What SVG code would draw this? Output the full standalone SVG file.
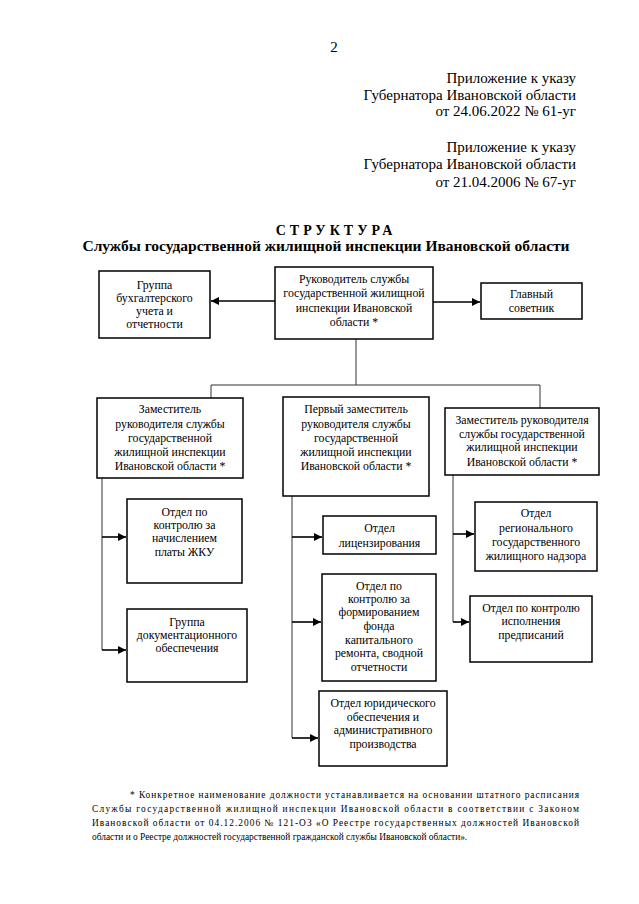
<svg xmlns="http://www.w3.org/2000/svg" width="639" height="904" viewBox="0 0 639 904" font-family="'Liberation Serif', 'Times New Roman', 'DejaVu Serif', serif">
<style>
text{font-family:'Liberation Serif','Times New Roman','DejaVu Serif',serif;fill:#000}
.hd{font-size:15px;text-anchor:end}
.bx{fill:#fff;stroke:#000;stroke-width:1.5}
.t{font-size:11.8px;text-anchor:middle}
.thin{stroke:#333;stroke-width:1;fill:none}
.arr{stroke:#000;stroke-width:1.6;fill:none;marker-end:url(#ah)}
.fn{font-size:9.4px}
</style>
<defs>
<marker id="ah" markerUnits="userSpaceOnUse" markerWidth="9" markerHeight="8" refX="8" refY="4" orient="auto">
<path d="M0,0 L8,4 L0,8 Z" fill="#000"/>
</marker>
</defs>
<rect width="639" height="904" fill="#fff"/>
<g id="header">
<text x="334" y="52" style="font-size:15px" text-anchor="middle">2</text>
<text class="hd" x="576" y="83">Приложение к указу</text>
<text class="hd" x="576" y="100">Губернатора Ивановской области</text>
<text class="hd" x="576" y="116">от 24.06.2022 № 61-уг</text>
<text class="hd" x="576" y="152">Приложение к указу</text>
<text class="hd" x="576" y="169">Губернатора Ивановской области</text>
<text class="hd" x="576" y="187">от 21.04.2006 № 67-уг</text>
<text x="336" y="235" text-anchor="middle" style="font-size:14px;font-weight:bold;letter-spacing:4px">СТРУКТУРА</text>
<text x="326" y="251" text-anchor="middle" style="font-size:15.5px;font-weight:bold">Службы государственной жилищной инспекции Ивановской области</text>
</g>
<g id="connectors">
<line class="arr" x1="275" y1="301" x2="211" y2="301"/>
<line class="arr" x1="433" y1="302" x2="480" y2="302"/>
<polyline class="thin" points="356,339 356,385"/>
<polyline class="thin" points="211,398 211,385 540,385 540,408"/>
<polyline class="thin" points="102,478 102,650"/>
<line class="arr" x1="102" y1="537" x2="126" y2="537"/>
<line class="arr" x1="102" y1="650" x2="126" y2="650"/>
<polyline class="thin" points="292,496 292,738"/>
<line class="arr" x1="292" y1="537" x2="322" y2="537"/>
<line class="arr" x1="292" y1="622" x2="321" y2="622"/>
<line class="arr" x1="292" y1="738" x2="318" y2="738"/>
<polyline class="thin" points="453,475 453,622"/>
<line class="arr" x1="453" y1="534" x2="474" y2="534"/>
<line class="arr" x1="453" y1="622" x2="469" y2="622"/>
</g>
<g id="n_buh">
<rect class="bx" x="99" y="271" width="111" height="67"/>
<text class="t" x="154.5" y="289">Группа</text>
<text class="t" x="154.5" y="302">бухгалтерского</text>
<text class="t" x="154.5" y="315">учета и</text>
<text class="t" x="154.5" y="328">отчетности</text>
</g>
<g id="n_head">
<rect class="bx" x="275" y="267" width="158" height="72"/>
<text class="t" x="354" y="283">Руководитель службы</text>
<text class="t" x="354" y="297">государственной жилищной</text>
<text class="t" x="354" y="312">инспекции Ивановской</text>
<text class="t" x="354" y="326">области *</text>
</g>
<g id="n_sov">
<rect class="bx" x="481" y="283" width="101" height="36"/>
<text class="t" x="531.5" y="298">Главный</text>
<text class="t" x="531.5" y="312">советник</text>
</g>
<g id="n_dep1">
<rect class="bx" x="97" y="398" width="146" height="80"/>
<text class="t" x="170" y="413">Заместитель</text>
<text class="t" x="170" y="427.5">руководителя службы</text>
<text class="t" x="170" y="442">государственной</text>
<text class="t" x="170" y="456">жилищной инспекции</text>
<text class="t" x="170" y="470">Ивановской области *</text>
</g>
<g id="n_first">
<rect class="bx" x="283" y="397" width="146" height="99"/>
<text class="t" x="356" y="413">Первый заместитель</text>
<text class="t" x="356" y="427.5">руководителя службы</text>
<text class="t" x="356" y="442">государственной</text>
<text class="t" x="356" y="456">жилищной инспекции</text>
<text class="t" x="356" y="470">Ивановской области *</text>
</g>
<g id="n_dep2">
<rect class="bx" x="445" y="408" width="154" height="67"/>
<text class="t" x="522" y="424">Заместитель руководителя</text>
<text class="t" x="522" y="438">службы государственной</text>
<text class="t" x="522" y="451">жилищной инспекции</text>
<text class="t" x="522" y="466">Ивановской области *</text>
</g>
<g id="n_zhku">
<rect class="bx" x="127" y="499" width="115" height="84"/>
<text class="t" x="184.5" y="516">Отдел по</text>
<text class="t" x="184.5" y="529">контролю за</text>
<text class="t" x="184.5" y="542">начислением</text>
<text class="t" x="184.5" y="556">платы ЖКУ</text>
</g>
<g id="n_doc">
<rect class="bx" x="127" y="609" width="120" height="73"/>
<text class="t" x="187" y="626">Группа</text>
<text class="t" x="187" y="639">документационного</text>
<text class="t" x="187" y="652">обеспечения</text>
</g>
<g id="n_lic">
<rect class="bx" x="323" y="516" width="113" height="38"/>
<text class="t" x="379.5" y="532">Отдел</text>
<text class="t" x="379.5" y="547">лицензирования</text>
</g>
<g id="n_fond">
<rect class="bx" x="322" y="574" width="114" height="107"/>
<text class="t" x="379" y="590">Отдел по</text>
<text class="t" x="379" y="603">контролю за</text>
<text class="t" x="379" y="616">формированием</text>
<text class="t" x="379" y="630">фонда</text>
<text class="t" x="379" y="644">капитального</text>
<text class="t" x="379" y="657">ремонта, сводной</text>
<text class="t" x="379" y="671">отчетности</text>
</g>
<g id="n_jur">
<rect class="bx" x="319" y="691" width="128" height="75"/>
<text class="t" x="383" y="707">Отдел юридического</text>
<text class="t" x="383" y="721">обеспечения и</text>
<text class="t" x="383" y="734">административного</text>
<text class="t" x="383" y="748">производства</text>
</g>
<g id="n_nadz">
<rect class="bx" x="475" y="502" width="122" height="69"/>
<text class="t" x="536" y="517">Отдел</text>
<text class="t" x="536" y="532">регионального</text>
<text class="t" x="536" y="546">государственного</text>
<text class="t" x="536" y="560">жилищного надзора</text>
</g>
<g id="n_isp">
<rect class="bx" x="470" y="596" width="122" height="66"/>
<text class="t" x="531" y="612">Отдел по контролю</text>
<text class="t" x="531" y="625">исполнения</text>
<text class="t" x="531" y="639">предписаний</text>
</g>
<g id="footnote">
<text class="fn" x="130" y="798" textLength="449" lengthAdjust="spacing">* Конкретное наименование должности устанавливается на основании штатного расписания</text>
<text class="fn" x="92" y="812" textLength="487" lengthAdjust="spacing">Службы государственной жилищной инспекции Ивановской области в соответствии с Законом</text>
<text class="fn" x="92" y="826" textLength="487" lengthAdjust="spacing">Ивановской области от 04.12.2006 № 121-ОЗ «О Реестре государственных должностей Ивановской</text>
<text class="fn" x="92" y="840">области и о Реестре должностей государственной гражданской службы Ивановской области».</text>
</g>
</svg>
